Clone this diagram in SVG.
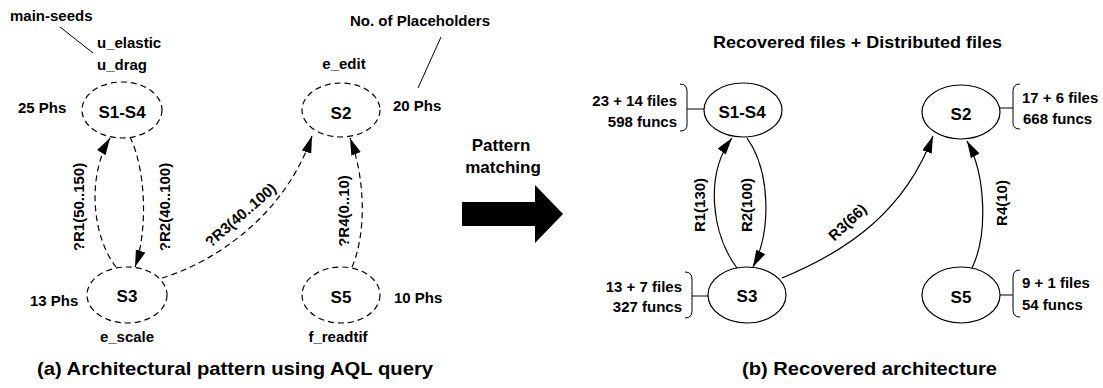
<svg xmlns="http://www.w3.org/2000/svg" width="1103" height="388" viewBox="0 0 1103 388">
  <style>
    text { font-family: "Liberation Sans", Arial, sans-serif; font-weight: bold; fill: #000; }
    .lbl { font-size: 15px; }
    .node { font-size: 17px; text-anchor: middle; }
    .cap { font-size: 19px; }
    .mid { text-anchor: middle; }
    .end { text-anchor: end; }
    .query { fill: #fff; stroke: #000; stroke-width: 1.2; stroke-dasharray: 6 4; }
    .found { fill: #fff; stroke: #000; stroke-width: 1.2; }
    .qedge { fill: none; stroke: #000; stroke-width: 1.2; stroke-dasharray: 6 4; marker-end: url(#head); }
    .fedge { fill: none; stroke: #000; stroke-width: 1.2; marker-end: url(#head); }
    .thin { fill: none; stroke: #000; stroke-width: 1; }
  </style>
  <defs>
    <marker id="head" markerUnits="userSpaceOnUse" markerWidth="18" markerHeight="11" refX="17" refY="5" orient="auto">
      <path d="M0,0 L17,5 L0,10 z" fill="#000" stroke="none"/>
    </marker>
  </defs>
  <rect width="1103" height="388" fill="#fff"/>

  <!-- (a) query pattern -->
  <g id="annotations-a">
    <text class="lbl" x="10" y="21">main-seeds</text>
    <line class="thin" x1="60" y1="27" x2="93" y2="53"/>
    <text class="lbl" x="350" y="26">No. of Placeholders</text>
    <line class="thin" x1="441" y1="37" x2="418" y2="88"/>
  </g>

  <g id="connectors-a">
    <path class="qedge" d="M116,267 C93,238 86,178 110,138"/>
    <path class="qedge" d="M130,137 C146,170 148,230 135,267"/>
    <path class="qedge" d="M162,278 C215,262 285,215 312,136"/>
    <path class="qedge" d="M352,267 C366,235 366,180 350,138"/>
    <text class="lbl mid" transform="translate(84,207) rotate(-90)">?R1(50..150)</text>
    <text class="lbl mid" transform="translate(170,207) rotate(-90)">?R2(40..100)</text>
    <text class="lbl mid" transform="translate(244,219) rotate(-41)">?R3(40..100)</text>
    <text class="lbl mid" transform="translate(349,211) rotate(-90)">?R4(0..10)</text>
  </g>

  <g id="q-s1s4">
    <ellipse class="query" cx="122" cy="110" rx="40" ry="28"/>
    <text class="node" x="122" y="118">S1-S4</text>
    <text class="lbl" x="97" y="48">u_elastic</text>
    <text class="lbl" x="97" y="70">u_drag</text>
    <text class="lbl" x="18" y="113">25 Phs</text>
  </g>
  <g id="q-s2">
    <ellipse class="query" cx="341" cy="110" rx="39" ry="27"/>
    <text class="node" x="341" y="119">S2</text>
    <text class="lbl mid" x="344" y="69">e_edit</text>
    <text class="lbl" x="393" y="111">20 Phs</text>
  </g>
  <g id="q-s3">
    <ellipse class="query" cx="127" cy="295" rx="40" ry="28"/>
    <text class="node" x="127" y="302">S3</text>
    <text class="lbl" x="30" y="306">13 Phs</text>
    <text class="lbl mid" x="127" y="342">e_scale</text>
  </g>
  <g id="q-s5">
    <ellipse class="query" cx="341" cy="295" rx="39" ry="28"/>
    <text class="node" x="341" y="303">S5</text>
    <text class="lbl" x="394" y="303">10 Phs</text>
    <text class="lbl mid" x="338" y="342">f_readtif</text>
  </g>

  <text class="cap" x="37" y="375" textLength="396" lengthAdjust="spacingAndGlyphs">(a) Architectural pattern using AQL query</text>

  <!-- transition arrow -->
  <g id="matching">
    <text class="mid" x="501" y="151" style="font-size:17px">Pattern</text>
    <text class="mid" x="503" y="173" style="font-size:17px">matching</text>
    <polygon points="462,202 535,202 535,185 563,214 535,243 535,226 462,226" fill="#000"/>
  </g>

  <!-- (b) recovered architecture -->
  <text x="713" y="48" style="font-size:17px" textLength="289" lengthAdjust="spacingAndGlyphs">Recovered files + Distributed files</text>

  <g id="connectors-b">
    <path class="fedge" d="M737,268 C712,235 704,175 732,138"/>
    <path class="fedge" d="M747,138 C770,170 772,230 753,267"/>
    <path class="fedge" d="M782,278 C850,250 905,210 933,136"/>
    <path class="fedge" d="M972,268 C988,235 986,175 967,141"/>
    <text class="lbl mid" transform="translate(705,205) rotate(-90)">R1(130)</text>
    <text class="lbl mid" transform="translate(752,205) rotate(-90)">R2(100)</text>
    <text class="lbl mid" transform="translate(851,226) rotate(-43)">R3(66)</text>
    <text class="lbl mid" transform="translate(1007,203) rotate(-90)">R4(10)</text>
  </g>

  <g id="r-s1s4">
    <ellipse class="found" cx="743" cy="110" rx="39" ry="27"/>
    <text class="node" x="742" y="118">S1-S4</text>
    <path class="thin" d="M680,84 Q687,84 687,91 L687,125 Q687,131 680,131 M687,109 L704,109"/>
    <text class="lbl end" x="677" y="106">23 + 14 files</text>
    <text class="lbl end" x="677" y="127">598 funcs</text>
  </g>
  <g id="r-s2">
    <ellipse class="found" cx="961" cy="112" rx="39" ry="27"/>
    <text class="node" x="961" y="120">S2</text>
    <path class="thin" d="M1020,84 Q1013,84 1013,91 L1013,123 Q1013,129 1020,129 M999,108 L1013,108"/>
    <text class="lbl" x="1022" y="103">17 + 6 files</text>
    <text class="lbl" x="1023" y="124">668 funcs</text>
  </g>
  <g id="r-s3">
    <ellipse class="found" cx="747" cy="295" rx="39" ry="28"/>
    <text class="node" x="747" y="302">S3</text>
    <path class="thin" d="M685,272 Q692,272 692,279 L692,311 Q692,318 685,318 M692,296 L708,296"/>
    <text class="lbl end" x="682" y="292">13 + 7 files</text>
    <text class="lbl end" x="682" y="312">327 funcs</text>
  </g>
  <g id="r-s5">
    <ellipse class="found" cx="961" cy="295" rx="39" ry="28"/>
    <text class="node" x="961" y="303">S5</text>
    <path class="thin" d="M1020,270 Q1013,270 1013,277 L1013,310 Q1013,317 1020,317 M1000,295 L1013,295"/>
    <text class="lbl" x="1022" y="288">9 + 1 files</text>
    <text class="lbl" x="1022" y="310">54 funcs</text>
  </g>

  <text class="cap" x="742" y="375" textLength="255" lengthAdjust="spacingAndGlyphs">(b) Recovered architecture</text>
</svg>
